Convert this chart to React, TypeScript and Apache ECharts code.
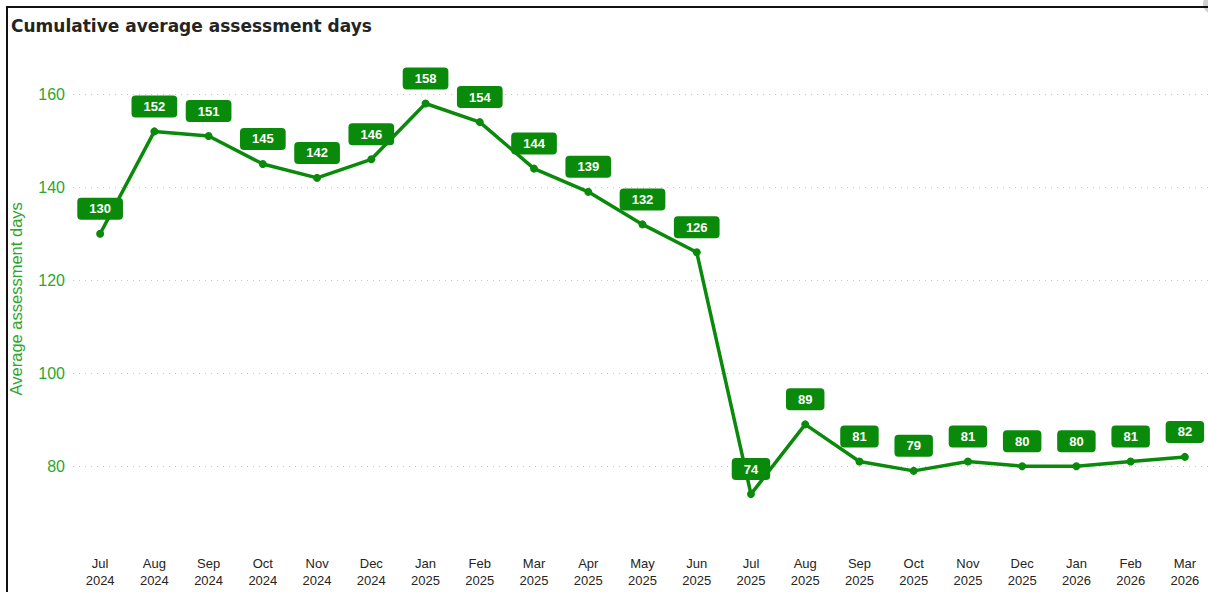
import React, { useEffect, useRef } from "react";
import * as echarts from "echarts";

const months = ["Jul", "Aug", "Sep", "Oct", "Nov", "Dec", "Jan", "Feb", "Mar", "Apr", "May", "Jun", "Jul", "Aug", "Sep", "Oct", "Nov", "Dec", "Jan", "Feb", "Mar"];
const years = ["2024", "2024", "2024", "2024", "2024", "2024", "2025", "2025", "2025", "2025", "2025", "2025", "2025", "2025", "2025", "2025", "2025", "2025", "2026", "2026", "2026"];
const values = [130, 152, 151, 145, 142, 146, 158, 154, 144, 139, 132, 126, 74, 89, 81, 79, 81, 80, 80, 81, 82];
const gridValues = [80, 100, 120, 140, 160];

const GREEN = "#0a8a0a";
const AXIS_GREEN = "#2ea52e";
const FONT = "'Liberation Sans', Arial, sans-serif";

export default function App() {
  const ref = useRef<HTMLDivElement>(null);
  useEffect(() => {
    if (!ref.current) return;
    const chart = echarts.init(ref.current, undefined, { renderer: "svg" });
    const categories = months.map((m, i) => m + "\n" + years[i]);
    chart.setOption({
      animation: false,
      textStyle: { fontFamily: FONT },
      title: {
        text: "Cumulative average assessment days",
        left: 6,
        top: 12,
        textStyle: { fontSize: 17, fontWeight: "bold", color: "#252423", fontFamily: "'DejaVu Sans', sans-serif" },
      },
      grid: { left: 73, right: 8, top: 57, height: 483.6, outerBoundsMode: "none", containLabel: false },
      xAxis: {
        type: "category",
        data: categories,
        boundaryGap: true,
        axisLine: { show: false },
        axisTick: { show: false },
        axisLabel: { color: "#252423", fontSize: 13, lineHeight: 17, margin: 14, fontFamily: FONT, interval: 0 },
      },
      yAxis: {
        type: "value",
        min: 64,
        max: 168,
        interval: 4,
        name: "Average assessment days",
        nameLocation: "middle",
        nameGap: 49,
        nameTextStyle: { color: AXIS_GREEN, fontSize: 16.5, fontFamily: FONT },
        axisLine: { show: false },
        axisTick: { show: false },
        splitLine: { show: false },
        axisLabel: {
          color: AXIS_GREEN,
          fontSize: 16,
          margin: 8,
          fontFamily: FONT,
          formatter: (v: number) => (v % 20 === 0 ? String(v) : ""),
        },
      },
      series: [
        {
          type: "line",
          data: values,
          symbol: "circle",
          symbolSize: 8,
          itemStyle: { color: GREEN },
          lineStyle: { color: GREEN, width: 3.5 },
          z: 3,
          label: {
            show: true,
            position: "top",
            distance: 10,
            color: "#ffffff",
            fontWeight: "bold",
            fontSize: 13,
            lineHeight: 14,
            fontFamily: FONT,
            backgroundColor: GREEN,
            borderRadius: 4,
            padding: [4, 12],
          },
          markLine: {
            silent: true,
            symbol: "none",
            label: { show: false },
            lineStyle: { color: "#c8c8c8", type: [1, 5], width: 1 },
            data: gridValues.map((v) => ({ yAxis: v })),
            z: 1,
          },
        },
      ],
      graphic: [
        {
          type: "polyline",
          shape: { points: [[7, 600], [7, 7], [1230, 7]] },
          style: { stroke: "#111", lineWidth: 2, fill: null },
          z: 10,
        },
        {
          type: "circle",
          shape: { cx: 1213, cy: 4, r: 10 },
          style: { fill: "#d0d0d0" },
          z: 9,
        },
      ],
    });
    return () => chart.dispose();
  }, []);
  return (
    <div style={{ position: "fixed", left: 0, top: 0, width: 1208, height: 592, overflow: "hidden", background: "#fff" }}>
      <div ref={ref} style={{ width: 1220, height: 592 }} />
    </div>
  );
}
